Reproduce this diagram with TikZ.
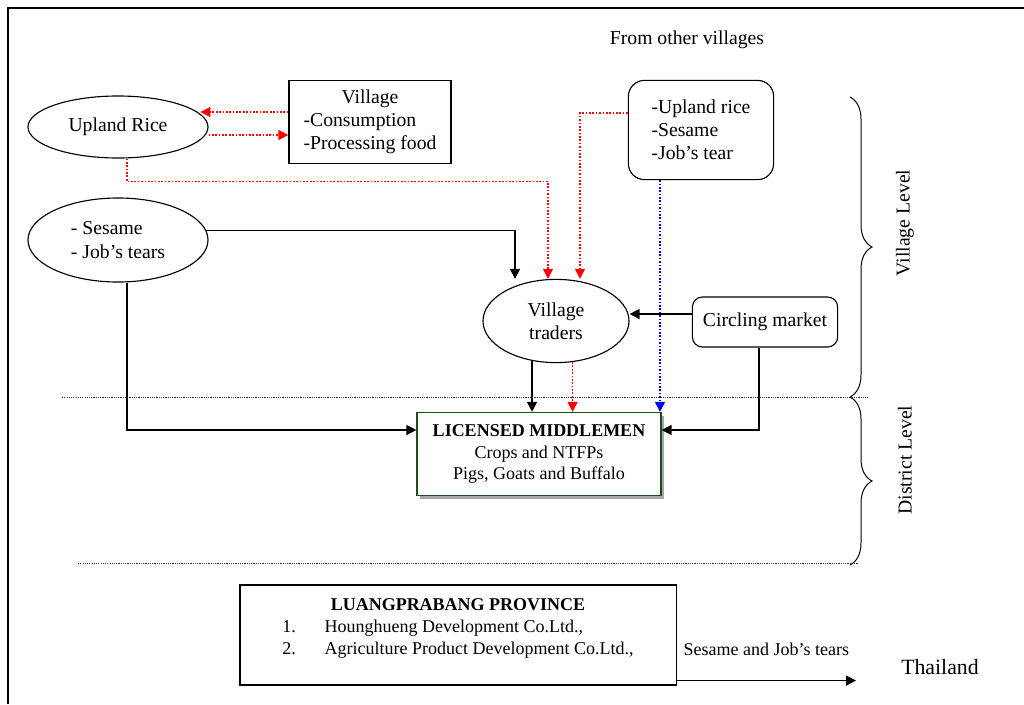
\documentclass[tikz,border=0pt]{standalone}
\usepackage{fontspec}
\setmainfont{Liberation Serif}
\usetikzlibrary{positioning,arrows.meta,calc,shapes.geometric,shadows,decorations.pathreplacing}
\definecolor{darkgrn}{HTML}{1E4D1E}

\begin{document}
\begin{tikzpicture}[
    x=0.025cm, y=-0.025cm,
    font=\fontsize{14}{16.5}\selectfont,
    oval/.style={draw, ellipse, line width=0.8pt, inner sep=0pt, align=left},
    box/.style={draw, line width=0.8pt, inner sep=0pt, align=left},
    rbox/.style={box, rounded corners=4mm},
    small/.style={font=\fontsize{12.8}{15.6}\selectfont},
    arr/.style={-{Triangle[length=2.5mm, width=2.5mm]}, line width=1pt},
    redarr/.style={arr, red, dash pattern=on 1.2pt off 1.2pt, line width=0.9pt},
    bluearr/.style={arr, blue, dash pattern=on 1.2pt off 1.2pt, line width=0.9pt},
    sep/.style={black!80, dash pattern=on 0.8pt off 0.8pt, line width=0.7pt},
    lvl/.style={decorate, decoration={brace, amplitude=0.55cm}, line width=0.7pt}
]
    \useasboundingbox (0,0) rectangle (1024,704);
    \draw[line width=1.6pt] (8,704) -- (8,8) -- (1024,8);

    \node (from) at (687,40) {From other villages};
    \node[oval, minimum width=4.5cm, minimum height=1.55cm] (rice) at (118,127) {Upland Rice};
    \node[box, minimum width=4.05cm, minimum height=2.08cm] (vil) at (370,122)
        {\begin{tabular}{@{}l@{}}\multicolumn{1}{@{}c@{}}{Village}\\-Consumption\\-Processing food\end{tabular}};
    \node[oval, minimum width=4.5cm, minimum height=2.1cm] (ses) at (118,240) {- Sesame\\- Job’s tears};
    \node[rbox, minimum width=3.63cm, minimum height=2.48cm] (other) at (701,130) {-Upland rice\\-Sesame\\-Job’s tear};
    \node[oval, align=center, minimum width=3.65cm, minimum height=2.08cm] (traders) at (556,321) {Village\\traders};
    \node[rbox, rounded corners=2.5mm, minimum width=3.63cm, minimum height=1.25cm] (circ) at (765,322) {Circling market};
    \node[box, small, align=center, draw=darkgrn, fill=white, minimum width=6.1cm, minimum height=2.08cm,
        drop shadow={shadow xshift=0.8mm, shadow yshift=-0.8mm, fill=gray!70, opacity=1}] (lic) at (539,454)
        {\textbf{LICENSED MIDDLEMEN}\\Crops and NTFPs\\Pigs, Goats and Buffalo};
    \node[box, small, minimum width=10.9cm, minimum height=2.5cm] (lp) at (458,635)
        {\begin{tabular}{@{}r@{\hspace{7.2mm}}l@{}}\multicolumn{2}{@{}c@{}}{\textbf{LUANGPRABANG PROVINCE}}\\
        1. & Hounghueng Development Co.Ltd.,\\ 2. & Agriculture Product Development Co.Ltd.,\\[10pt]\end{tabular}};
    \node[font=\fontsize{15.5}{18}\selectfont] (thai) at (940,667) {Thailand};

    % red: rice and food flows
    \draw[redarr] ([shift={(0,-10)}]vil.west) coordinate (v1) -- (v1 -| rice.9);
    \draw[redarr] ([shift={(0,8)}]rice.east) coordinate (r1) -- (r1 -| vil.west);
    \draw[redarr] ([shift={(9,0)}]rice.south) -- ++(0,23) -| ([shift={(-8,0)}]traders.north);
    \draw[redarr] ([shift={(0,-17)}]other.west) -| ([shift={(24,0)}]traders.north);
    \draw[redarr] (traders.-68) -- (traders.-68 |- lic.north);
    \draw[bluearr] ([shift={(-41,0)}]other.south) coordinate (o1) -- (o1 |- lic.north);

    \draw[arr] (ses.6) -| ([shift={(-41,0)}]traders.north);
    \draw[arr] ([shift={(0,-8)}]circ.west) coordinate (c1) -- (c1 -| traders.east);
    \draw[arr] (traders.-121) -- (traders.-121 |- lic.north);
    \draw[arr] ([shift={(-6,0)}]circ.south) |- ([shift={(0,-24)}]lic.east);
    \draw[arr] ([shift={(9,0)}]ses.south) |- ([shift={(0,-24)}]lic.west);

    \draw[arr] ([shift={(0,-5)}]lp.south east) coordinate (l1) -- (l1 -| 856,0)
        node[midway, above=0.6cm, small, inner sep=0pt] (exp) {Sesame and Job’s tears};

    % levels
    \draw[sep] (62,397) -- (868,397);
    \draw[sep] (78,563) -- (858,563);
    \draw[lvl] (850,97) -- (850,397);
    \draw[lvl] (850,397) -- (850,565);
    \node[rotate=90] (vlev) at (905,223) {Village Level};
    \node[rotate=90] (dlev) at (905,460) {District Level};
\end{tikzpicture}
\end{document}
